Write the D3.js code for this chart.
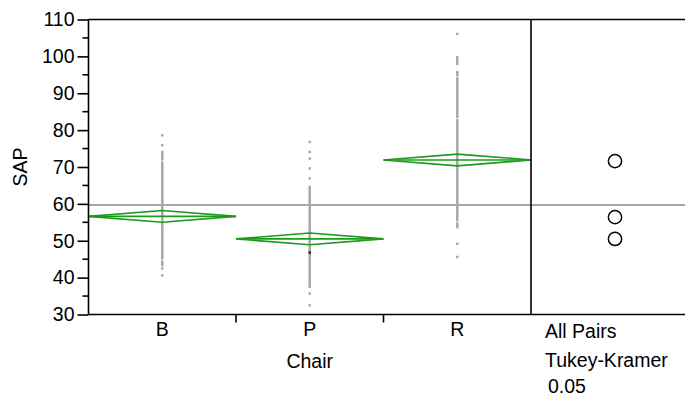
<!DOCTYPE html>
<html>
<head>
<meta charset="utf-8">
<script src="https://cdn.jsdelivr.net/npm/d3@7"></script>
<style>
  body { margin: 0; background: #fff; }
  svg { display: block; font-family: Arial, "Liberation Sans", sans-serif; }
</style>
</head>
<body>
<svg id="chart" width="685" height="396"></svg>
<script>
// categories
var chairs = ["B", "P", "R"];

var sapB = [78.6, 75.9, 74.1, 73.6, 73.1, 72.6, 72.1, 71.2, 70.7, 70.2, 69.8, 69.3, 68.7, 68.2, 67.8,
  67.2, 66.8, 66.3, 65.7, 65.2, 64.8, 64.3, 63.7, 63.2, 62.8, 62.3, 61.8, 61.2, 60.7, 60.3, 59.8,
  59.2, 58.8, 58.3, 57.7, 57.2, 56.8, 56.3, 55.8, 55.2, 54.7, 54.3, 53.8, 53.2, 52.8, 52.3, 51.7,
  51.2, 50.8, 50.3, 49.7, 49.2, 48.8, 48.3, 47.7, 47.2, 46.8, 46.3, 45.7, 45.2, 44.3, 43.8, 43.4,
  42.5, 40.6];
var sapP = [76.8, 74.1, 72.3, 69.6, 66.9, 64.6, 64.1, 63.6, 63.1, 62.6, 62.1, 61.6, 61.1, 60.6,
  60.1, 59.2, 58.7, 58.2, 57.7, 57.2, 56.7, 56.2, 55.7, 55.2, 54.7, 54.2, 53.7, 53.2, 52.7, 52.2,
  51.7, 51.2, 50.7, 50.2, 49.7, 49.2, 48.7, 48.2, 47.7, 47.2, 46.3, 45.8, 45.3, 44.8, 44.3, 43.8,
  43.3, 42.8, 42.3, 41.8, 41.3, 40.8, 40.3, 39.8, 39.3, 38.8, 38.3, 37.8, 37.5, 35.7, 32.5];
var sapR = [106.1, 99.8, 99.2, 98.6, 98.0, 95.7, 95.3, 94.9, 94.0, 93.5, 93.0, 92.5, 92.0, 91.5,
  91.0, 90.5, 90.0, 89.5, 89.0, 88.5, 88.0, 87.5, 87.0, 86.5, 86.0, 85.5, 85.0, 84.5, 84.0, 83.6,
  82.7, 82.2, 81.7, 81.2, 80.7, 80.2, 79.7, 79.2, 78.7, 78.2, 77.7, 77.2, 76.7, 76.2, 75.7, 75.2,
  74.7, 74.2, 73.7, 73.2, 72.7, 72.2, 71.7, 71.2, 70.7, 70.2, 69.7, 69.2, 68.7, 68.2, 67.7, 67.2,
  66.7, 66.2, 65.7, 65.2, 64.7, 64.2, 63.7, 63.2, 62.7, 62.2, 61.7, 61.2, 60.7, 60.2, 59.7, 59.2,
  58.7, 58.2, 57.7, 57.2, 56.7, 56.2, 55.6, 54.7, 54.2, 53.7, 49.2, 45.6];

// one highlighted (dark) row
var markedChair = ["P"];
var markedSap = [46.8];

// means diamonds
var groupMeans = [56.6, 50.5, 71.9];
var ciHalf = [1.6, 1.6, 1.6];
var grandMean = 59.7;

// Tukey-Kramer comparison circles
var circleCenters = [71.6, 56.4, 50.5];
var circleRadius = [1.8, 1.8, 1.8];

var yTicks = [30, 40, 50, 60, 70, 80, 90, 100, 110];
var compareLabels = ["All Pairs", "Tukey-Kramer", "0.05"];

var svg = d3.select("#chart");

var plotLeft = 88.5, plotRight = 531, plotTop = 19.5, plotBottom = 314.5, panelRight = 685;
var green = "#1c9a1c";
var fs = 19.5;

var y = d3.scaleLinear().domain([30, 110]).range([plotBottom, plotTop]);
var x = d3.scaleBand().domain(chairs).range([plotLeft, plotRight]).padding(0);

var points = [];
[sapB, sapP, sapR].forEach(function(vals, i) {
  vals.forEach(function(v) { points.push({chair: chairs[i], sap: v}); });
});

// grand mean line
svg.append("line")
  .attr("x1", plotLeft).attr("x2", panelRight)
  .attr("y1", y(grandMean)).attr("y2", y(grandMean))
  .attr("stroke", "#888").attr("stroke-width", 1.5);

// raw points
svg.append("g").selectAll("rect")
  .data(points)
  .enter().append("rect")
  .attr("x", function(d) { return x(d.chair) + x.bandwidth() / 2 - 1.25; })
  .attr("y", function(d) { return y(d.sap) - 1.25; })
  .attr("width", 2.5).attr("height", 2.5)
  .attr("fill", "#aaaaaa");

svg.append("g").selectAll("rect")
  .data(markedChair)
  .enter().append("rect")
  .attr("x", function(d) { return x(d) + x.bandwidth() / 2 - 1.25; })
  .attr("y", function(d, i) { return y(markedSap[i]) - 1.25; })
  .attr("width", 2.5).attr("height", 2.5)
  .attr("fill", "#222");

// means diamonds
var dg = svg.append("g");
chairs.forEach(function(c, i) {
  var x0 = x(c), x1 = x(c) + x.bandwidth(), xm = (x0 + x1) / 2;
  var m = groupMeans[i];
  var pts = [[x0, y(m)], [xm, y(m + ciHalf[i])], [x1, y(m)], [xm, y(m - ciHalf[i])]];
  dg.append("path")
    .attr("d", d3.line()(pts) + "Z")
    .attr("fill", "none").attr("stroke", green).attr("stroke-width", 1.6);
  dg.append("line")
    .attr("x1", x0).attr("x2", x1)
    .attr("y1", y(m)).attr("y2", y(m))
    .attr("stroke", green).attr("stroke-width", 1.6);
});

// comparison circles
var cx = 615;
svg.append("g").selectAll("circle")
  .data(circleCenters)
  .enter().append("circle")
  .attr("cx", cx)
  .attr("cy", function(d) { return y(d); })
  .attr("r", function(d, i) { return y(30) - y(30 + circleRadius[i]); })
  .attr("fill", "none").attr("stroke", "#000").attr("stroke-width", 1.5);

// frame
var frame = svg.append("g").attr("stroke", "#000").attr("stroke-width", 1.6);
frame.append("line").attr("x1", plotLeft).attr("x2", panelRight).attr("y1", plotTop).attr("y2", plotTop);
frame.append("line").attr("x1", plotLeft).attr("x2", panelRight).attr("y1", plotBottom).attr("y2", plotBottom);
frame.append("line").attr("x1", plotRight).attr("x2", plotRight).attr("y1", plotTop).attr("y2", plotBottom);

// y axis
var yAxis = svg.append("g")
  .attr("transform", "translate(" + plotLeft + ",0)")
  .call(d3.axisLeft(y).tickValues(yTicks).tickSize(11).tickPadding(3));
yAxis.selectAll("text").attr("font-size", fs).attr("fill", "#000").attr("font-family", null);
yAxis.selectAll("line, path").attr("stroke", "#000").attr("stroke-width", 1.6);
yAxis.select(".domain").attr("d", "M0," + plotTop + "V" + plotBottom);

// minor ticks
svg.append("g").selectAll("line")
  .data(d3.range(35, 110, 10))
  .enter().append("line")
  .attr("x1", plotLeft - 6).attr("x2", plotLeft)
  .attr("y1", function(d) { return y(d); }).attr("y2", function(d) { return y(d); })
  .attr("stroke", "#000").attr("stroke-width", 1.6);

// x axis labels and ticks at band edges
svg.append("g").selectAll("line")
  .data(chairs.slice(1))
  .enter().append("line")
  .attr("x1", function(d) { return x(d); }).attr("x2", function(d) { return x(d); })
  .attr("y1", plotBottom).attr("y2", plotBottom + 8)
  .attr("stroke", "#000").attr("stroke-width", 1.6);

svg.append("g").selectAll("text")
  .data(chairs)
  .enter().append("text")
  .attr("x", function(d) { return x(d) + x.bandwidth() / 2; })
  .attr("y", 336)
  .attr("text-anchor", "middle")
  .attr("font-size", fs)
  .text(function(d) { return d; });

svg.append("text")
  .attr("x", (plotLeft + plotRight) / 2).attr("y", 368)
  .attr("text-anchor", "middle").attr("font-size", fs)
  .text("Chair");

svg.append("text")
  .attr("transform", "translate(27," + ((plotTop + plotBottom) / 2) + ") rotate(-90)")
  .attr("text-anchor", "middle").attr("font-size", fs)
  .text("SAP");

// compare panel caption
var capX = [545, 545, 548];
var capY = [338, 366.5, 393];
svg.append("g").selectAll("text")
  .data(compareLabels)
  .enter().append("text")
  .attr("x", function(d, i) { return capX[i]; })
  .attr("y", function(d, i) { return capY[i]; })
  .attr("font-size", fs)
  .text(function(d) { return d; });
</script>
</body>
</html>
